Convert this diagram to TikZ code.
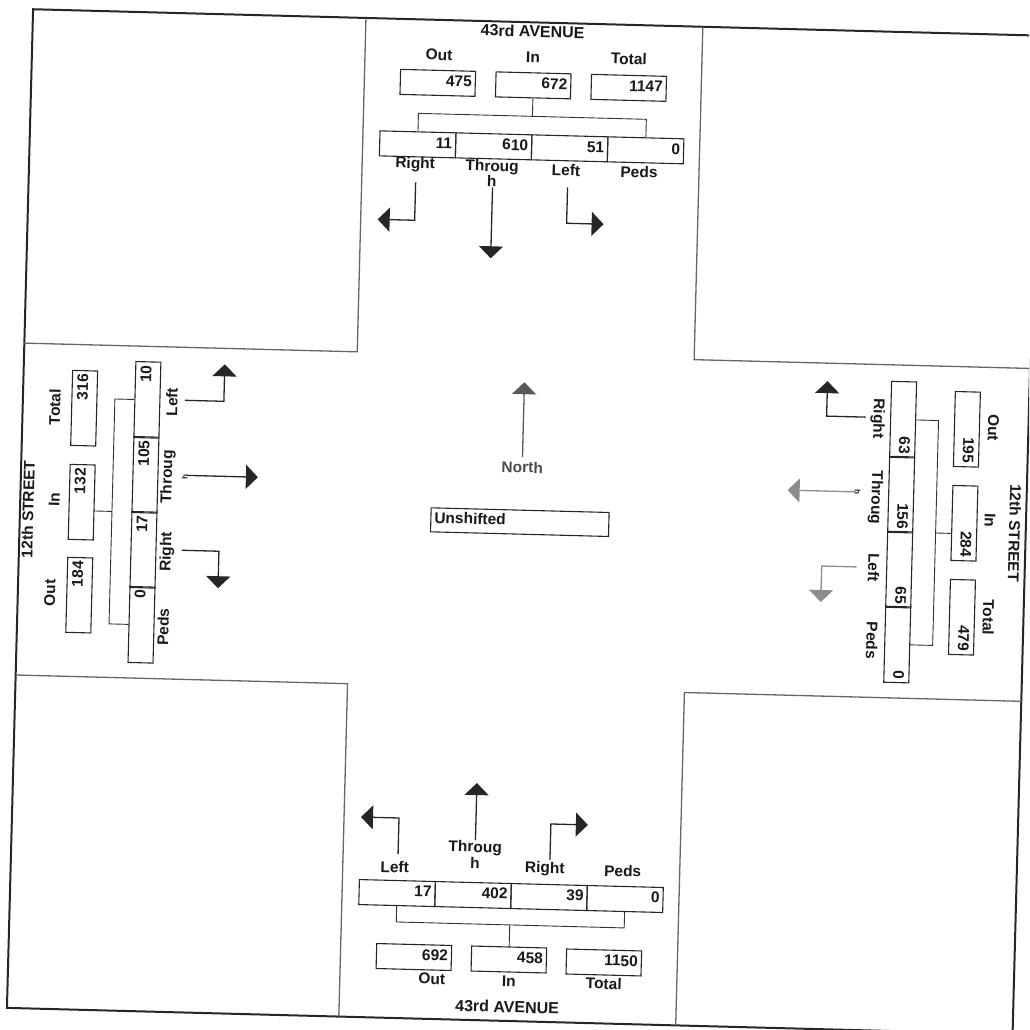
\documentclass[tikz,border=0pt]{standalone}
\usepackage{fontspec}
\setmainfont{Liberation Sans}
\usetikzlibrary{arrows.meta}
\begin{document}
\begin{tikzpicture}[x=1pt,y=-1pt,
  every node/.style={font=\fontsize{15.5}{16}\selectfont\bfseries, inner sep=0pt, text=black!90},
  numbox/.style={draw=black!85, line width=1.1pt, text width=68pt, inner xsep=3.5pt, inner ysep=0pt,
    minimum height=25pt, align=right, text height=11.5pt, text depth=5pt},
  movbox/.style={numbox, text width=69pt},
  smallh/.style={font=\fontsize{8}{8}\selectfont\bfseries},
  road/.style={draw=black!60, line width=1.3pt},
  frame/.style={draw=black!85, line width=2pt},
  brk/.style={draw=black!80, line width=0.9pt},
  mv/.style={draw=black!85, line width=1.3pt, -{Triangle[width=24pt,length=12pt]}},
  mvf/.style={mv, draw=black!45},
]
\clip (0,0) rectangle (1029,1030);
\begin{scope}[rotate around={-1.5:(514.5,515)}, transform shape]
% frame and road edges
\draw[frame] (20,22) rectangle (1026,1021);
\draw[road] (353,22) -- (353,356) -- (20,356);
\draw[road] (690,22) -- (690,355) -- (1026,355);
\draw[road] (20,688) -- (352,688) -- (352,1021);
\draw[road] (1026,688) -- (689,688) -- (689,1021);

% ---------- North approach (43rd AVENUE, top) ----------
\node (nName) at (520,31) {\fontsize{16}{16}\selectfont 43rd AVENUE};
\node (nOutL) at (427,57) {Out};
\node (nInL) at (521,57) {In};
\node (nTotL) at (617,56) {Total};
\node[numbox] (nOut) at (426.5,85) {475};
\node[numbox] (nIn) at (522,85) {672};
\node[numbox] (nTot) at (617.5,85) {1147};
\node[movbox] (nR) at (408,147) {11};
\node[movbox] (nT) at (484,147) {610};
\node[movbox] (nL) at (560,147) {51};
\node[movbox] (nP) at (636,147) {0};
\node (nRL) at (406,167) {Right};
\node (nTL) at (483,168) {Throug};
\node (nTL2) at (483,182) {h};
\node (nLL) at (557,169) {Left};
\node (nPL) at (630,169) {Peds};
\coordinate (nb0) at (522,116);
\coordinate (nb1) at (408,116);
\coordinate (nb2) at (636,116);
\draw[brk] (nIn.south) -- (nb0);
\draw[brk] (nR.north) -- (nb1) -- (nb2) -- (nP.north);
\coordinate (naR0) at (407,185); \coordinate (naR1) at (407,223); \coordinate (naR2) at (370,223);
\draw[mv] (naR0) -- (naR1) -- (naR2);
\coordinate (naT0) at (484,188); \coordinate (naT1) at (484,259);
\draw[mv] (naT0) -- (naT1);
\coordinate (naL0) at (559,186); \coordinate (naL1) at (559,222); \coordinate (naL2) at (596,222);
\draw[mv] (naL0) -- (naL1) -- (naL2);

% ---------- South approach (43rd AVENUE, bottom) ----------
\node[movbox] (sL) at (407,896) {17};
\node[movbox] (sT) at (483,896) {402};
\node[movbox] (sR) at (559,896) {39};
\node[movbox] (sP) at (635,896) {0};
\node (sLL) at (404,870) {Left};
\node (sTL) at (484,849) {Throug};
\node (sTL2) at (484,864) {h};
\node (sRL) at (554,868) {Right};
\node (sPL) at (632,868) {Peds};
\node[numbox] (sOut) at (425.5,959.5) {692};
\node[numbox] (sIn) at (520.5,959.5) {458};
\node[numbox] (sTot) at (615.5,960) {1150};
\node (sOutL) at (444,981) {Out};
\node (sInL) at (521,981) {In};
\node (sTotL) at (616,981) {Total};
\node (sName) at (520,1007) {\fontsize{16}{16}\selectfont 43rd AVENUE};
\coordinate (sb0) at (520.5,925);
\coordinate (sb1) at (407,925);
\coordinate (sb2) at (635,925);
\draw[brk] (sL.south) -- (sb1) -- (sb2) -- (sP.south);
\draw[brk] (sb0) -- (sIn.north);
\coordinate (saL0) at (407,857); \coordinate (saL1) at (407,821); \coordinate (saL2) at (369,821);
\draw[mv] (saL0) -- (saL1) -- (saL2);
\coordinate (saT0) at (484,841); \coordinate (saT1) at (484,784);
\draw[mv] (saT0) -- (saT1);
\coordinate (saR0) at (559,859); \coordinate (saR1) at (559,823); \coordinate (saR2) at (596,823);
\draw[mv] (saR0) -- (saR1) -- (saR2);

% ---------- West approach (12th STREET, left) ----------
\node[rotate=90] (wName) at (28,522) {12th STREET};
\node[rotate=90] (wTotL) at (52,419) {Total};
\node[rotate=90] (wInL) at (54,512) {In};
\node[rotate=90] (wOutL) at (52,605) {Out};
\node[numbox, rotate=90] (wTot) at (81.5,419.5) {316};
\node[numbox, rotate=90] (wIn) at (81.5,513.5) {132};
\node[numbox, rotate=90] (wOut) at (81.5,606.5) {184};
\node[movbox, rotate=90] (wL) at (144.5,409.5) {10};
\node[movbox, rotate=90] (wT) at (144.5,484.5) {105};
\node[movbox, rotate=90] (wR) at (144.5,559.5) {17};
\node[movbox, rotate=90] (wP) at (144.5,634.5) {0};
\node[rotate=90] (wLL) at (169,411) {Left};
\node[rotate=90] (wTL) at (167,486) {Throug};
\node[rotate=90, smallh] (wTL2) at (184,486) {h};
\node[rotate=90] (wRL) at (168,561) {Right};
\node[rotate=90] (wPL) at (166,636) {Peds};
\coordinate (wb0) at (112,522);
\coordinate (wb1) at (112,409.5);
\coordinate (wb2) at (112,634.5);
\coordinate (wInE) at (94,522);
\draw[brk] (wL.north) -- (wb1) -- (wb2) -- (wP.north);
\draw[brk] (wInE) -- (wb0);
\coordinate (waL0) at (182,409); \coordinate (waL1) at (221,409); \coordinate (waL2) at (221,372);
\draw[mv] (waL0) -- (waL1) -- (waL2);
\coordinate (waT0) at (186,484); \coordinate (waT1) at (257,484);
\draw[mv] (waT0) -- (waT1);
\coordinate (waR0) at (183,559); \coordinate (waR1) at (220,559); \coordinate (waR2) at (220,596);
\draw[mv] (waR0) -- (waR1) -- (waR2);

% ---------- East approach (12th STREET, right) ----------
\node[rotate=-90] (eName) at (1015,520) {12th STREET};
\node[rotate=-90] (eOutL) at (991,415) {Out};
\node[rotate=-90] (eInL) at (990,508) {In};
\node[rotate=-90] (eTotL) at (991,605) {Total};
\node[numbox, rotate=-90] (eOut) at (964.5,417.5) {195};
\node[numbox, rotate=-90] (eIn) at (964.5,511.5) {284};
\node[numbox, rotate=-90] (eTot) at (964.5,605.5) {479};
\node[movbox, rotate=-90] (eR) at (900.5,409.5) {63};
\node[movbox, rotate=-90] (eT) at (900.5,484.5) {156};
\node[movbox, rotate=-90] (eL) at (900.5,559.5) {65};
\node[movbox, rotate=-90] (eP) at (900.5,634.5) {0};
\node[rotate=-90] (eRL) at (875,409) {Right};
\node[rotate=-90] (eTL) at (875,488) {Throug};
\node[rotate=-90, smallh] (eTL2) at (857,483) {h};
\node[rotate=-90] (eLL) at (875,558) {Left};
\node[rotate=-90] (ePL) at (875,631) {Peds};
\coordinate (eb0) at (936,522);
\coordinate (eb1) at (936,409.5);
\coordinate (eb2) at (936,634.5);
\coordinate (eInW) at (952,522);
\draw[brk] (eR.north) -- (eb1) -- (eb2) -- (eP.north);
\draw[brk] (eb0) -- (eInW);
\coordinate (eaR0) at (863,408); \coordinate (eaR1) at (824,408); \coordinate (eaR2) at (824,373);
\draw[mv] (eaR0) -- (eaR1) -- (eaR2);
\coordinate (eaT0) at (855,483); \coordinate (eaT1) at (787,483);
\draw[mvf] (eaT0) -- (eaT1);
\coordinate (eaL0) at (858,558); \coordinate (eaL1) at (823,558); \coordinate (eaL2) at (823,594);
\draw[mvf] (eaL0) -- (eaL1) -- (eaL2);

% ---------- Centre ----------
\coordinate (cN0) at (521,457); \coordinate (cN1) at (521,382);
\draw[mv, draw=black!65] (cN0) -- (cN1);
\node[text=black!70] (cNorth) at (521,467) {North};
\node[draw=black!85, line width=1.1pt, minimum width=178pt, minimum height=24pt, text width=171pt,
  inner xsep=3.5pt, align=left, text height=11.5pt, text depth=5pt] (cUn) at (520,522) {Unshifted};
\end{scope}
\end{tikzpicture}
\end{document}
